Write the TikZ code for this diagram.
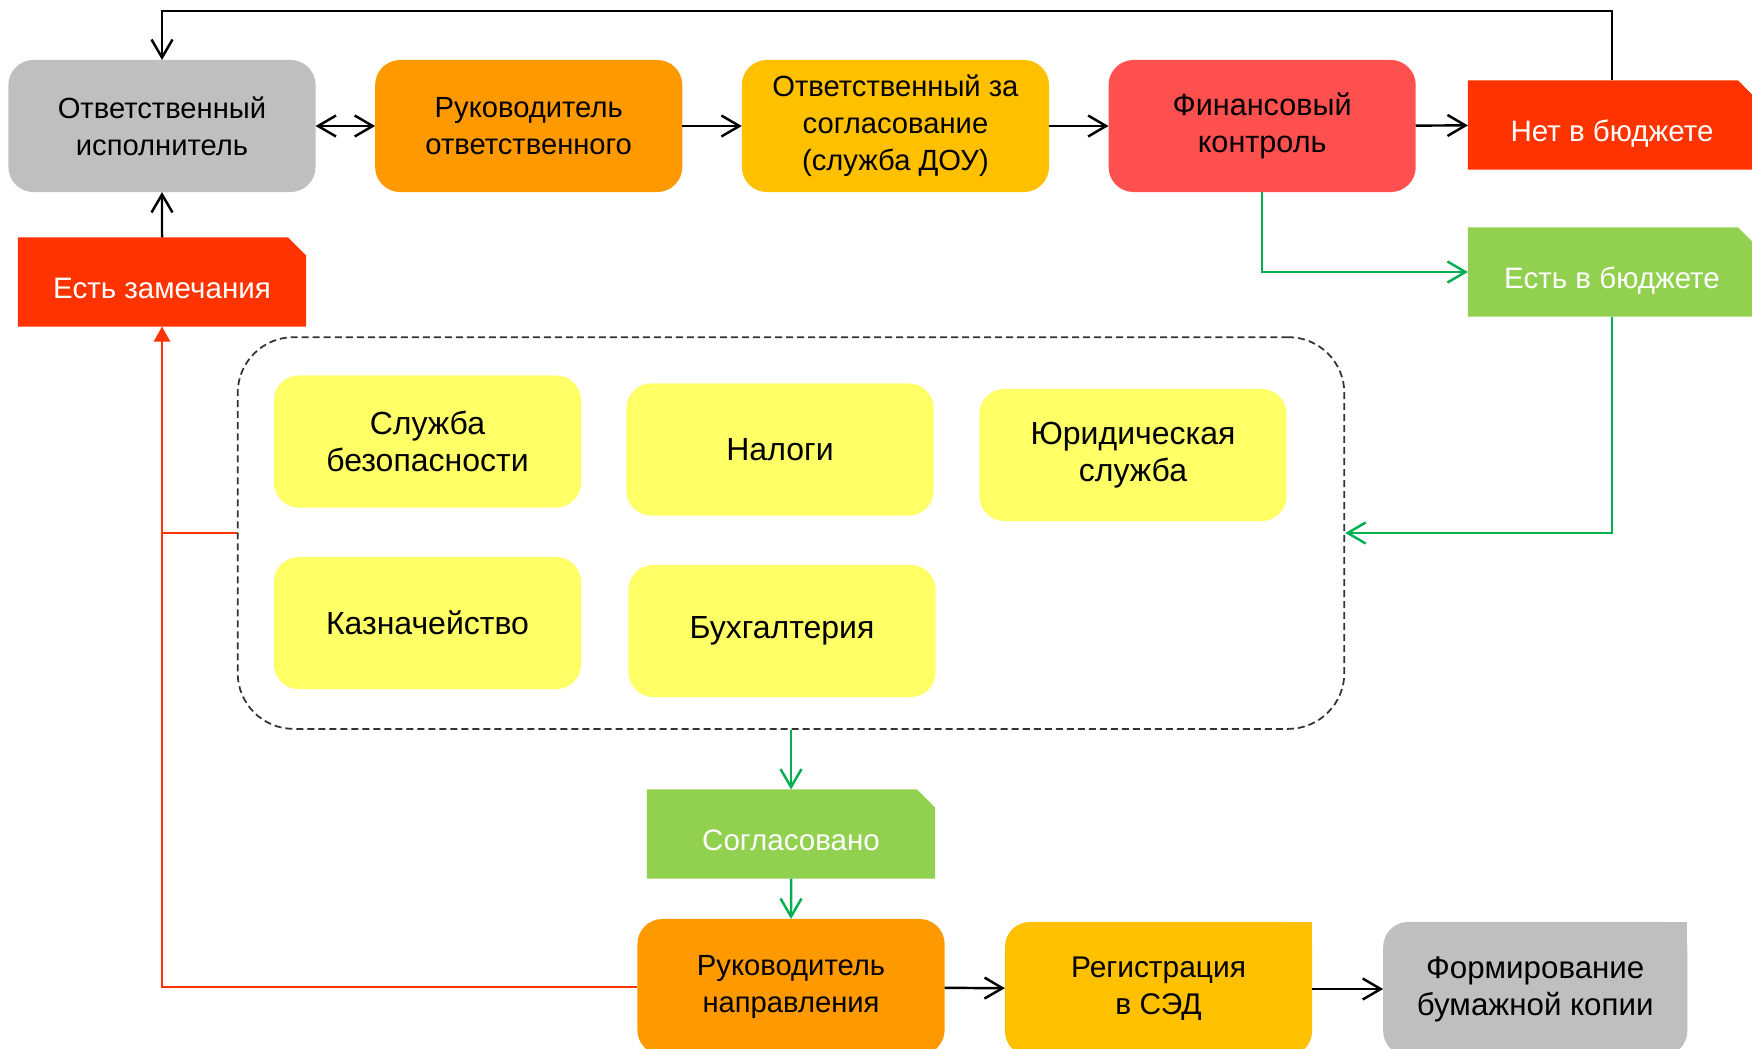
\documentclass[tikz,border=0pt]{standalone}
\usepackage{fontspec}
\setmainfont{Liberation Sans}
\usetikzlibrary{shapes.misc,arrows.meta,positioning}

\definecolor{greybox}{HTML}{BFBFBF}
\definecolor{orangebox}{HTML}{FF9900}
\definecolor{amberbox}{HTML}{FFC000}
\definecolor{redbox}{HTML}{FF5050}
\definecolor{alertred}{HTML}{FF3300}
\definecolor{okgreen}{HTML}{92D050}
\definecolor{paleyellow}{HTML}{FFFF66}
\definecolor{linegreen}{HTML}{00B050}

\tikzset{
  stage/.style={rounded corners=0.25cm, minimum width=3.07cm, minimum height=1.32cm, align=center,
    inner sep=2pt, outer sep=0pt, font=\fontsize{8.3pt}{10.5pt}\selectfont},
  check/.style={stage, fill=paleyellow, font=\fontsize{9.1pt}{10.5pt}\selectfont},
  flag/.style={chamfered rectangle, chamfered rectangle corners=north east,
    chamfered rectangle xsep=0.09cm, chamfered rectangle ysep=0.09cm,
    minimum width=2.88cm, minimum height=0.89cm, inner sep=2pt, outer sep=0pt,
    text height=0.37cm, text depth=0.05cm, text=white, align=center,
    font=\fontsize{8.4pt}{10.5pt}\selectfont},
  gline/.style={draw=linegreen, line width=0.7pt},
  rline/.style={draw=alertred, line width=0.7pt}
}

\begin{document}
\begin{tikzpicture}[x=0.01cm, y=-0.01cm, node distance=3.665cm, line width=0.7pt,
    >={Straight Barb[length=1.8mm,width=2.1mm]}]
    \useasboundingbox (0,0) rectangle (1752,1048);
    % top row
    \node[stage, fill=greybox] (resp) at (162,126) {Ответственный\\исполнитель};
    \node[stage, fill=orangebox, right of=resp] (head) {Руководитель\\ответственного};
    \node[stage, fill=amberbox, right of=head] (doc) {Ответственный за\\согласование\\(служба ДОУ)};
    \node[stage, fill=redbox, right of=doc, font=\fontsize{8.7pt}{10.5pt}\selectfont] (fin) {Финансовый\\контроль};
    \node[flag, fill=alertred] (nobud) at (1612,125) {Нет в бюджете};
    \node[flag, fill=okgreen] (yesbud) at (1612,272) {Есть в бюджете};
    \node[flag, fill=alertred] (remarks) at (162,282) {Есть замечания};
    % reviewers
    \node[draw=black!80, line width=0.5pt, dash pattern=on 0.7mm off 0.4mm, rounded corners=0.56cm,
      minimum width=11.06cm, minimum height=3.915cm] (panel) at (791,533) {};
    \node[check] (sec) at (427.5,441.5) {Служба\\безопасности};
    \node[check] (tax) at (780,449.5) {Налоги};
    \node[check] (law) at (1133,455) {Юридическая\\служба};
    \node[check, below of=sec, node distance=1.815cm] (treas) {Казначейство};
    \node[check] (acc) at (782,631) {Бухгалтерия};
    % bottom row
    \node[flag, fill=okgreen] (ok) at (791,834) {Согласовано};
    \node[stage, fill=orangebox, minimum height=1.36cm] (dir) at (791,987) {Руководитель\\направления};
    \node[stage, fill=amberbox, minimum height=1.34cm, font=\fontsize{8.5pt}{10.5pt}\selectfont] (reg) at (1158.5,989) {Регистрация\\в СЭД};
    \node[stage, fill=greybox, minimum width=3.04cm, minimum height=1.34cm, right of=reg, node distance=3.765cm,
      font=\fontsize{8.9pt}{10.5pt}\selectfont] (paper) {Формирование\\бумажной копии};
    \fill[amberbox] (reg.north east) rectangle ++(-30,30);
    \fill[greybox] (paper.north east) rectangle ++(-30,30);
    % black connectors
    \coordinate (top) at (0,11);
    \draw[<->] (resp) -- (head);
    \draw[->] (head) -- (doc);
    \draw[->] (doc) -- (fin);
    \draw[->] (fin) -- (nobud);
    \draw[->] (nobud.north) -- (nobud.north |- top) -| (resp.north);
    \draw[->] (remarks) -- (resp);
    \draw[->] (dir) -- (reg);
    \draw[->] (reg) -- (paper);
    % green connectors
    \draw[gline, ->] (fin.south) |- (yesbud.west);
    \draw[gline, ->] (yesbud.south) |- (panel.east);
    \draw[gline, ->] (panel.south) -- (ok.north);
    \draw[gline, ->] (ok) -- (dir);
    % red connectors
    \draw[rline, -{Triangle[length=1.5mm,width=1.6mm]}] (dir.west) -| (remarks.south);
    \draw[rline] (panel.west) -- (panel.west -| remarks.south);
\end{tikzpicture}
\end{document}
